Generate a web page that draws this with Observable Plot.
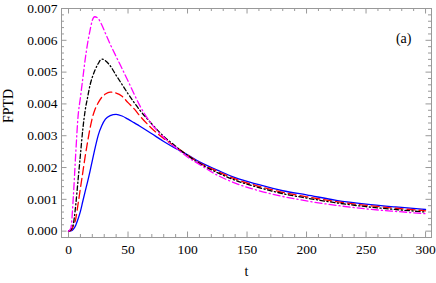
<!DOCTYPE html>
<html>
<head>
<meta charset="utf-8">
<script src="https://cdn.jsdelivr.net/npm/d3@7"></script>
<script src="https://cdn.jsdelivr.net/npm/@observablehq/plot@0.6"></script>
<style>
  html, body { margin: 0; padding: 0; background: #fff; }
  svg text { font-family: "Liberation Serif", "Times New Roman", Times, serif; }
</style>
</head>
<body>
<div id="chart"></div>
<script>
const tValues = [0, 2, 4, 6, 8, 10, 12, 14, 16, 18, 20, 22, 25, 28, 31, 35, 40, 45, 50, 55, 60, 70, 80, 90, 100, 110, 125, 140, 160, 180, 200, 225, 250, 275, 300];
const blueSeries = [0, 0.00001, 0.00006, 0.00018, 0.00038, 0.00062, 0.00094, 0.00125, 0.00155, 0.00187, 0.00222, 0.00256, 0.00302, 0.00332, 0.00352, 0.00363, 0.00367, 0.00362, 0.00352, 0.00341, 0.0033, 0.00306, 0.00282, 0.0026, 0.0024, 0.00218, 0.00192, 0.00168, 0.00146, 0.00127, 0.00114, 0.00097, 0.00085, 0.00076, 0.00068];
const redSeries = [0, 0.00002, 0.00015, 0.00038, 0.00085, 0.00135, 0.00185, 0.00235, 0.0028, 0.00322, 0.00356, 0.0038, 0.00404, 0.00421, 0.00431, 0.00437, 0.00434, 0.00424, 0.00404, 0.00385, 0.00362, 0.00323, 0.00291, 0.00265, 0.00239, 0.00215, 0.00188, 0.00164, 0.00141, 0.00122, 0.00108, 0.00093, 0.00081, 0.00072, 0.00064];
const blackSeries = [0, 0.00005, 0.00022, 0.0008, 0.0016, 0.0024, 0.0032, 0.0038, 0.0042, 0.00458, 0.00484, 0.00504, 0.00527, 0.00541, 0.00536, 0.0052, 0.0049, 0.00461, 0.00432, 0.00405, 0.0038, 0.00337, 0.00298, 0.00267, 0.00238, 0.00213, 0.00184, 0.0016, 0.00137, 0.00118, 0.00104, 0.00089, 0.00077, 0.00068, 0.0006];
const magentaSeries = [0, 0.0001, 0.00106, 0.0024, 0.0036, 0.0042, 0.0048, 0.0054, 0.0059, 0.0063, 0.00663, 0.00674, 0.00668, 0.00648, 0.00622, 0.00588, 0.00549, 0.00511, 0.00472, 0.00432, 0.00394, 0.00336, 0.00295, 0.00263, 0.00233, 0.0021, 0.00176, 0.00151, 0.00127, 0.00109, 0.00095, 0.00081, 0.0007, 0.00062, 0.00055];
const xTickValues = [0, 50, 100, 150, 200, 250, 300];
const yTickValues = [0, 0.001, 0.002, 0.003, 0.004, 0.005, 0.006, 0.007];
const xMinorTicks = d3.range(0, 301, 10).filter(v => v % 50 !== 0);
const yMinorTicks = d3.range(-2, 71, 2).map(v => v / 10000).filter(v => Math.abs(v * 1000 - Math.round(v * 1000)) > 1e-9);

const seriesDefs = [
  {name: "blue", values: blueSeries, color: "#0000ff", dash: null, width: 1.3},
  {name: "red", values: redSeries, color: "#ff0000", dash: "8,4", width: 1.3},
  {name: "black", values: blackSeries, color: "#000000", dash: "4.5,2.5,1.2,2.5", width: 1.3},
  {name: "magenta", values: magentaSeries, color: "#ff00ff", dash: "7,3,1.2,3", width: 1.3}
];

const W = 436, H = 283, mL = 61, mR = 5, mT = 8, mB = 46;
const frameW = W - mL - mR, frameH = H - mT - mB;
const majorLen = 5.5, minorLen = 3;
const frameColor = "#999999";
const fontStack = "'Liberation Serif', 'Times New Roman', Times, serif";

const lineMarks = seriesDefs.map(s =>
  Plot.line(tValues.map((t, i) => ({t, v: s.values[i]})), {
    x: "t", y: "v", stroke: s.color, strokeWidth: s.width,
    strokeDasharray: s.dash, curve: "monotone-x"
  })
);

const chart = Plot.plot({
  width: W, height: H,
  marginLeft: mL, marginRight: mR, marginTop: mT, marginBottom: mB,
  style: {fontFamily: fontStack, fontSize: "13.5px", background: "#fff", color: "#000"},
  x: {domain: [-5.9, 305]},
  y: {domain: [-0.0002, 0.007]},
  marks: [
    Plot.tickX(xTickValues, {x: d => d, insetTop: frameH - majorLen, stroke: frameColor}),
    Plot.tickX(xTickValues, {x: d => d, insetBottom: frameH - majorLen, stroke: frameColor}),
    Plot.tickX(xMinorTicks, {x: d => d, insetTop: frameH - minorLen, stroke: frameColor}),
    Plot.tickX(xMinorTicks, {x: d => d, insetBottom: frameH - minorLen, stroke: frameColor}),
    Plot.tickY(yTickValues, {y: d => d, insetRight: frameW - majorLen, stroke: frameColor}),
    Plot.tickY(yTickValues, {y: d => d, insetLeft: frameW - majorLen, stroke: frameColor}),
    Plot.tickY(yMinorTicks, {y: d => d, insetRight: frameW - minorLen, stroke: frameColor}),
    Plot.tickY(yMinorTicks, {y: d => d, insetLeft: frameW - minorLen, stroke: frameColor}),
    Plot.axisX({ticks: xTickValues, tickSize: 0, tickPadding: 7, label: null, tickFormat: d3.format("d"), fontSize: 13.5}),
    Plot.axisY({ticks: yTickValues, tickSize: 0, tickPadding: 4, label: null, tickFormat: d3.format(".3f"), fontSize: 13.5}),
    ...lineMarks,
    Plot.frame({stroke: frameColor}),
    Plot.text(["(a)"], {frameAnchor: "top-right", dx: -20, dy: 25, textAnchor: "end", fontSize: 14}),
    Plot.text(["t"], {frameAnchor: "bottom", dy: 38, fontSize: 14}),
    Plot.text(["FPTD"], {frameAnchor: "left", dx: -53, rotate: -90, fontSize: 14})
  ]
});
document.getElementById("chart").appendChild(chart);
</script>
</body>
</html>
